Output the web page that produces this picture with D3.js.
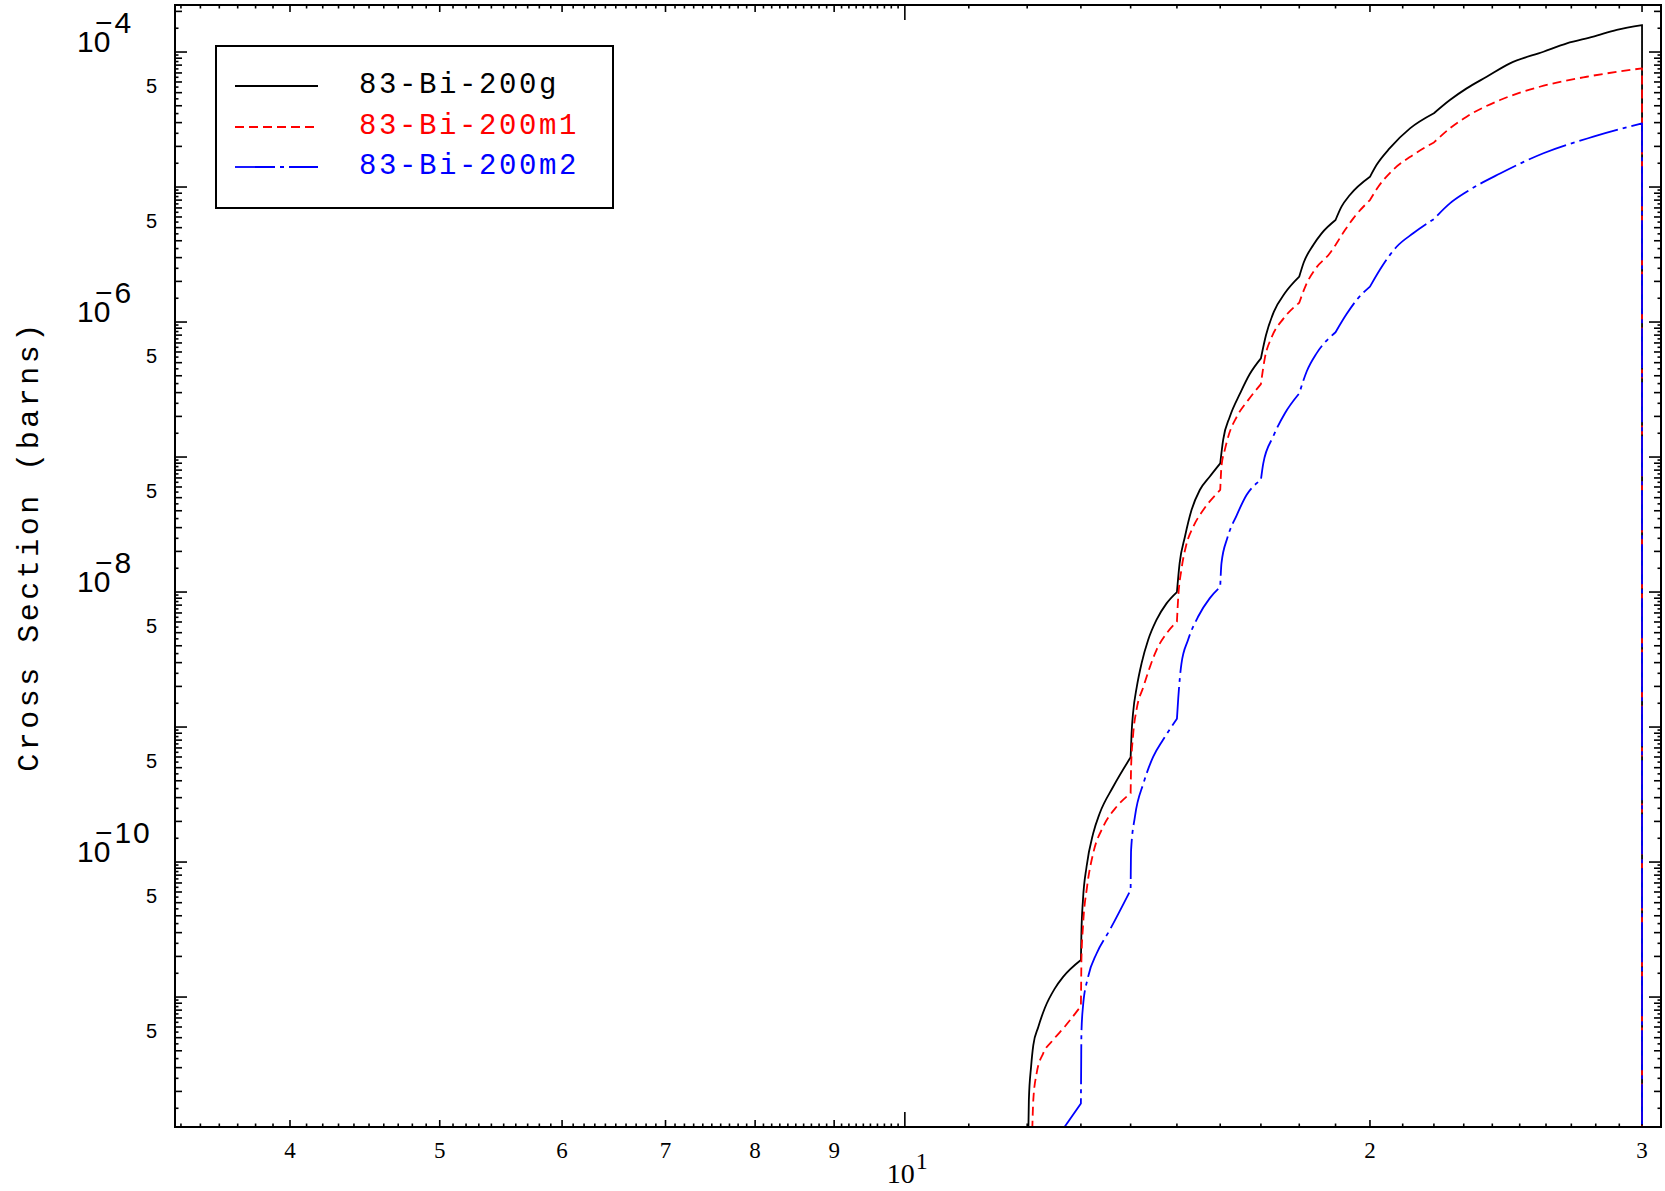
<!DOCTYPE html>
<html><head><meta charset="utf-8">
<script src="https://cdn.jsdelivr.net/npm/d3@7"></script>
<style>body{margin:0;background:#fff}svg{display:block}</style>
</head><body>
<svg id="chart" width="1665" height="1191"></svg>
<script>
// ---------- data (energy in MeV, cross section in barns) ----------
const seriesNames = ["83-Bi-200g", "83-Bi-200m1", "83-Bi-200m2"];
const seriesColors = ["#000000", "#ff0000", "#0000ff"];
const seriesDash = [null, "9,5", "40,5,4,5"];

const energyG = [12.0, 12.03, 12.07, 12.11, 12.20, 12.32, 12.50, 12.66, 13.0, 13.01, 13.04, 13.11, 13.24, 13.37, 13.64,
  14.0, 14.02, 14.05, 14.13, 14.23, 14.37, 14.55, 14.77, 15.0, 15.06, 15.18, 15.33, 15.52, 15.75, 16.0, 16.07, 16.23,
  16.48, 16.72, 17.0, 17.13, 17.33, 17.62, 18.0, 18.12, 18.38, 18.61, 19.0, 19.17, 19.41, 20.0, 20.2, 20.6, 21.23, 22.0,
  22.53, 23.10, 23.80, 24.64, 25.90, 26.82, 27.90, 28.89, 30.0, 30.0];
const sigmaG = [3e-13, 1.73e-12, 3.05e-12, 4.41e-12, 6.0e-12, 8.3e-12, 1.15e-11, 1.41e-11, 1.88e-11, 2.98e-11, 5.23e-11,
  9.23e-11, 1.63e-10, 2.30e-10, 3.61e-10, 5.97e-10, 9.0e-10, 1.26e-9, 1.99e-9, 2.96e-9, 4.41e-9, 6.21e-9, 8.24e-9, 1.00e-8,
  1.63e-8, 2.57e-8, 4.05e-8, 5.70e-8, 7.15e-8, 8.98e-8, 1.34e-7, 1.99e-7, 2.96e-7, 4.12e-7, 5.38e-7, 8.01e-7, 1.19e-6,
  1.64e-6, 2.17e-6, 2.76e-6, 3.72e-6, 4.54e-6, 5.70e-6, 7.15e-6, 8.72e-6, 1.19e-5, 1.46e-5, 1.94e-5, 2.72e-5, 3.52e-5,
  4.41e-5, 5.38e-5, 6.56e-5, 8.24e-5, 1.005e-4, 1.16e-4, 1.30e-4, 1.46e-4, 1.585e-4, 1e-13];

const energyM1 = [12.07, 12.11, 12.17, 12.29, 12.47, 12.69, 13.0, 13.005, 13.01, 13.04, 13.12, 13.24, 13.44, 13.71, 14.0,
  14.01, 14.05, 14.13, 14.27, 14.41, 14.55, 14.77, 15.0, 15.03, 15.10, 15.21, 15.37, 15.60, 16.0, 16.03, 16.11, 16.19,
  16.40, 16.68, 17.0, 17.10, 17.27, 17.58, 18.0, 18.18, 18.45, 18.84, 19.0, 19.27, 19.51, 20.0, 20.25, 20.70, 21.33, 22.0,
  22.53, 23.10, 24.28, 25.76, 27.63, 30.0, 30.0];
const sigmaM1 = [4e-13, 1.73e-12, 2.72e-12, 3.83e-12, 4.80e-12, 6.03e-12, 8.57e-12, 1.26e-11, 1.88e-11, 3.32e-11, 6.56e-11,
  1.16e-10, 1.83e-10, 2.57e-10, 3.23e-10, 5.08e-10, 8.57e-10, 1.38e-9, 1.99e-9, 2.80e-9, 3.72e-9, 4.94e-9, 6.03e-9, 9.23e-9,
  1.46e-8, 2.23e-8, 3.05e-8, 4.05e-8, 5.70e-8, 8.57e-8, 1.13e-7, 1.41e-7, 1.99e-7, 2.64e-7, 3.47e-7, 5.41e-7, 7.67e-7,
  1.06e-6, 1.39e-6, 1.88e-6, 2.50e-6, 3.23e-6, 3.72e-6, 4.80e-6, 5.86e-6, 8.01e-6, 1.005e-5, 1.34e-5, 1.73e-5, 2.14e-5,
  2.72e-5, 3.32e-5, 4.41e-5, 5.53e-5, 6.56e-5, 7.57e-5, 1e-13];

const energyM2 = [12.62, 13.0, 13.005, 13.01, 13.04, 13.14, 13.31, 13.57, 14.0, 14.01, 14.09, 14.27, 14.48, 14.69, 15.0,
  15.03, 15.10, 15.25, 15.48, 15.75, 16.0, 16.03, 16.17, 16.40, 16.64, 17.0, 17.06, 17.31, 17.62, 18.0, 18.20, 18.47, 19.0,
  19.32, 19.61, 20.0, 20.37, 20.81, 21.33, 22.0, 22.53, 23.10, 24.28, 25.90, 27.90, 30.0, 30.0];
const sigmaM2 = [1.0e-12, 1.63e-12, 3.05e-12, 5.38e-12, 8.47e-12, 1.41e-11, 2.11e-11, 3.13e-11, 6.21e-11, 1.23e-10,
  2.17e-10, 3.83e-10, 6.03e-10, 8.01e-10, 1.15e-9, 1.64e-9, 2.93e-9, 4.41e-9, 6.56e-9, 8.98e-9, 1.09e-8, 1.64e-8, 2.51e-8,
  3.72e-8, 5.23e-8, 6.76e-8, 8.98e-8, 1.41e-7, 2.11e-7, 2.96e-7, 4.30e-7, 5.86e-7, 8.4e-7, 1.15e-6, 1.46e-6, 1.83e-6,
  2.60e-6, 3.61e-6, 4.54e-6, 5.79e-6, 7.57e-6, 9.23e-6, 1.26e-5, 1.78e-5, 2.36e-5, 2.96e-5, 1e-13];

// energies where the curves have a slope break (threshold kinks)
const kinkEnergies = [13, 14, 15, 16, 17, 18, 19, 20, 22, 30];

// axis ranges and tick labels
const xDomain = [3.37, 30.86];
const yDomain = [1.09e-12, 2.23e-4];
const xLabelTicks = [4, 5, 6, 7, 8, 9, 20, 30];
const xLabelText = ["4", "5", "6", "7", "8", "9", "2", "3"];
const xDecadeLabel = {value: 10, base: "10", exp: "1"};
const yExpLabels = [-4, -6, -8, -10];
const yFiveDecades = [-5, -6, -7, -8, -9, -10, -11, -12];
const yTitle = "Cross Section (barns)";

// ---------- layout ----------
const L = 175, R = 1661, T = 5, B = 1127;
const svg = d3.select("#chart");
const x = d3.scaleLog().domain(xDomain).range([L, R]);
const y = d3.scaleLog().domain(yDomain).range([B, T]);

svg.append("defs").append("clipPath").attr("id", "plotclip")
  .append("rect").attr("x", L).attr("y", T).attr("width", R - L).attr("height", B - T);

// ---------- ticks ----------
function inX(v) { return v >= xDomain[0] && v <= xDomain[1]; }
function inY(v) { return v >= yDomain[0] && v <= yDomain[1]; }

const xTicks = [];
for (let i = 30; i < 100; i++) {
  const v = i / 10;
  if (!inX(v)) continue;
  xTicks.push({v: v, len: (i % 10 === 0) ? 7 : 3.5});
}
xTicks.push({v: 10, len: 15});
for (let k = 11; k <= 40; k++) {
  if (!inX(k)) continue;
  xTicks.push({v: k, len: (k % 10 === 0) ? 7 : 3.5});
}

const yTicks = [];
for (let n = -13; n <= -3; n++) {
  const base = Math.pow(10, n);
  if (inY(base)) yTicks.push({v: base, len: 12});
  for (let k = 2; k <= 9; k++) { const v = k * base; if (inY(v)) yTicks.push({v: v, len: 7}); }
  for (let k = 1; k <= 9; k++) { const v = (k + 0.5) * base; if (inY(v)) yTicks.push({v: v, len: 3.5}); }
}

const tk = svg.append("g").attr("stroke", "#000").attr("stroke-width", 1.6);
tk.selectAll(".xb").data(xTicks).join("line")
  .attr("x1", d => x(d.v)).attr("x2", d => x(d.v)).attr("y1", B).attr("y2", d => B - d.len);
tk.selectAll(".xt").data(xTicks).join("line")
  .attr("x1", d => x(d.v)).attr("x2", d => x(d.v)).attr("y1", T).attr("y2", d => T + d.len);
tk.selectAll(".yl").data(yTicks).join("line")
  .attr("y1", d => y(d.v)).attr("y2", d => y(d.v)).attr("x1", L).attr("x2", d => L + d.len);
tk.selectAll(".yr").data(yTicks).join("line")
  .attr("y1", d => y(d.v)).attr("y2", d => y(d.v)).attr("x1", R).attr("x2", d => R - d.len);

// ---------- curves ----------
const series = [
  {e: energyG, s: sigmaG},
  {e: energyM1, s: sigmaM1},
  {e: energyM2, s: sigmaM2}
];
const smooth = d3.line().x(d => x(d[0])).y(d => y(d[1])).curve(d3.curveMonotoneX);
const straight = d3.line().x(d => x(d[0])).y(d => y(d[1]));

function buildPath(pts) {
  // split into pieces at kink energies; smooth within pieces, join into one path
  const pieces = [];
  let cur = [pts[0]];
  for (let j = 1; j < pts.length; j++) {
    cur.push(pts[j]);
    const isKink = kinkEnergies.some(k => Math.abs(pts[j][0] - k) < 1e-9);
    if (isKink && j < pts.length - 1) { pieces.push(cur); cur = [pts[j]]; }
  }
  if (cur.length > 1) pieces.push(cur);
  let d = "";
  pieces.forEach((pc, i) => {
    const vertical = pc.length === 2 && pc[0][0] === pc[1][0];
    let s = (vertical ? straight(pc) : smooth(pc));
    if (i > 0) s = s.replace(/^M[^A-Za-z]*/, "");
    d += s;
  });
  return d;
}

const curves = svg.append("g").attr("clip-path", "url(#plotclip)");
series.forEach((sr, i) => {
  const pts = sr.e.map((e, j) => [e, sr.s[j]]);
  curves.append("path").attr("d", buildPath(pts))
    .attr("fill", "none").attr("stroke", seriesColors[i]).attr("stroke-width", 1.8)
    .attr("stroke-linejoin", "round")
    .attr("stroke-dasharray", seriesDash[i]);
});

// frame
svg.append("rect").attr("x", L).attr("y", T).attr("width", R - L).attr("height", B - T)
  .attr("fill", "none").attr("stroke", "#000").attr("stroke-width", 2);

// ---------- tick labels ----------
const xl = svg.append("g").attr("font-family", "'Liberation Serif', serif").attr("font-size", 23)
  .attr("text-anchor", "middle").attr("fill", "#000");
xLabelTicks.forEach((v, i) => {
  xl.append("text").attr("x", x(v)).attr("y", 1158).text(xLabelText[i]);
});
const xd = svg.append("text").attr("font-family", "'Liberation Serif', serif").attr("fill", "#000")
  .attr("x", x(xDecadeLabel.value) - 18).attr("y", 1183).attr("font-size", 28);
xd.append("tspan").text(xDecadeLabel.base);
xd.append("tspan").attr("dy", -14).attr("dx", 1).attr("font-size", 24).text(xDecadeLabel.exp);

const yl = svg.append("g").attr("font-family", "'Liberation Sans', sans-serif").attr("fill", "#000");
yExpLabels.forEach(n => {
  const yy = y(Math.pow(10, n));
  const t = yl.append("text").attr("x", 77).attr("y", yy).attr("font-size", 30);
  t.append("tspan").text("10");
  t.append("tspan").attr("dx", -15.5).attr("dy", -19).attr("letter-spacing", 2).text("\u2212" + Math.abs(n));
});
yFiveDecades.forEach(n => {
  const v = 5 * Math.pow(10, n);
  if (!inY(v)) return;
  yl.append("text").attr("x", 157).attr("y", y(v)).attr("font-size", 20).attr("text-anchor", "end").text("5");
});

// y title
svg.append("text").attr("transform", "translate(38,546) rotate(-90)")
  .attr("text-anchor", "middle").attr("font-family", "'Liberation Mono', monospace")
  .attr("font-size", 30).attr("letter-spacing", 3.5).attr("fill", "#000").text(yTitle);

// ---------- legend ----------
const lg = svg.append("g");
lg.append("rect").attr("x", 216).attr("y", 46).attr("width", 397).attr("height", 162)
  .attr("fill", "#fff").attr("stroke", "#000").attr("stroke-width", 2);
const legY = [86, 127, 167];
seriesNames.forEach((name, i) => {
  lg.append("line").attr("x1", 235).attr("x2", 318).attr("y1", legY[i]).attr("y2", legY[i])
    .attr("stroke", seriesColors[i]).attr("stroke-width", 1.8).attr("stroke-dasharray", seriesDash[i]);
  lg.append("text").attr("x", 359).attr("y", legY[i] + 7).attr("font-family", "'Liberation Mono', monospace")
    .attr("font-size", 29).attr("letter-spacing", 2.6).attr("fill", seriesColors[i]).text(name);
});
</script>
</body></html>
